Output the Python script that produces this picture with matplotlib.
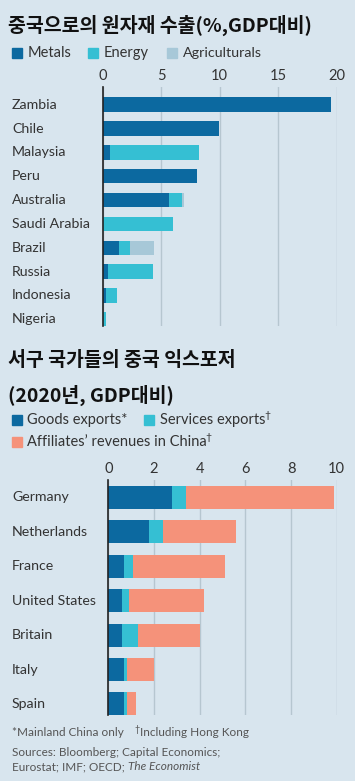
import numpy as np
import matplotlib
matplotlib.use("Agg")
import matplotlib.pyplot as plt
from matplotlib.patches import Rectangle
from matplotlib.transforms import blended_transform_factory

# --- data: raw material exports to China, % of GDP
countries1 = ["Zambia", "Chile", "Malaysia", "Peru", "Australia",
              "Saudi Arabia", "Brazil", "Russia", "Indonesia", "Nigeria"]
metals = [19.5, 9.9, 0.6, 8.05, 5.7, 0.0, 1.4, 0.45, 0.3, 0.05]
energy = [0.0, 0.0, 7.65, 0.0, 1.1, 6.0, 0.95, 3.85, 0.9, 0.2]
agri = [0.0, 0.0, 0.0, 0.0, 0.12, 0.0, 2.05, 0.0, 0.0, 0.0]
ticks1 = [0, 5, 10, 15, 20]

# --- data: western exposure to China, 2020, % of GDP
countries2 = ["Germany", "Netherlands", "France", "United States",
              "Britain", "Italy", "Spain"]
goods = [2.8, 1.8, 0.7, 0.6, 0.6, 0.7, 0.7]
services = [0.6, 0.6, 0.4, 0.3, 0.7, 0.1, 0.12]
affiliates = [6.5, 3.2, 4.0, 3.3, 2.7, 1.2, 0.4]
ticks2 = [0, 2, 4, 6, 8, 10]

BG = "#d8e5ee"
C_DARK = "#0c69a0"
C_CYAN = "#35bfd3"
C_LIGHT = "#a7c8d8"
C_SALMON = "#f5927a"
GRID = "#b6c6d0"
TXT = "#333333"

W, H = 355, 781
fig = plt.figure(figsize=(W / 100, H / 100), dpi=100, facecolor=BG)
KR = ["Noto Sans CJK KR", "DejaVu Sans"]
LAT = ["Lato", "DejaVu Sans"]


def fx(px):
    return px / W


def fy(py):
    return 1 - py / H


def put(x, y, s, **kw):
    kw.setdefault("family", LAT)
    kw.setdefault("va", "center")
    return fig.text(fx(x), fy(y), s, **kw)


renderer = fig.canvas.get_renderer()


def after(t, s, dx=0, dy=0, **kw):
    bb = t.get_window_extent(renderer=renderer)
    kw.setdefault("family", LAT)
    kw.setdefault("va", "center")
    return fig.text(fx(bb.x1 + dx), t.get_position()[1] + dy / H, s, **kw)


def swatch(x, y, c, size=10):
    fig.patches.append(Rectangle((fx(x), fy(y + size / 2)), size / W, size / H,
                                 transform=fig.transFigure, color=c, figure=fig))


def setup(ax, ticks, labels, left_px):
    ax.set_facecolor("none")
    for s in ["top", "right", "bottom"]:
        ax.spines[s].set_visible(False)
    ax.spines["left"].set_color("#222222")
    ax.spines["left"].set_linewidth(1.2)
    ax.spines["left"].set_zorder(5)
    ax.set_xticks(ticks)
    ax.xaxis.tick_top()
    ax.tick_params(axis="x", length=0, pad=3, labelsize=10.5, labelcolor=TXT)
    for lab in ax.get_xticklabels():
        lab.set_family(LAT)
    ax.grid(axis="x", color=GRID, linewidth=1)
    ax.set_axisbelow(True)
    ax.set_yticks([])
    tr = blended_transform_factory(fig.transFigure, ax.transData)
    for i, name in enumerate(labels):
        ax.text(fx(left_px), i, name, transform=tr, family=LAT, fontsize=10.2,
                color=TXT, va="center", ha="left")


# ---------- chart 1 ----------
put(8, 25, "중국으로의 원자재 수출(%,GDP대비)", family=KR, fontsize=14,
    fontweight="bold", color="#111111")
swatch(12, 53, C_DARK)
put(27.5, 53, "Metals", fontsize=10.5, color=TXT)
swatch(88, 53, C_CYAN)
put(104, 53, "Energy", fontsize=10.5, color=TXT)
swatch(167, 53, C_LIGHT)
put(182.5, 53, "Agriculturals", fontsize=10.3, color=TXT)

top1, bot1 = 87, 326
ax1 = fig.add_axes([fx(102.7), fy(bot1), (336.7 - 102.7) / W, (bot1 - top1) / H])
y1 = np.arange(len(countries1))
m = np.array(metals)
e = np.array(energy)
a = np.array(agri)
ax1.barh(y1, m, height=0.6, color=C_DARK)
ax1.barh(y1, e, left=m, height=0.6, color=C_CYAN)
ax1.barh(y1, a, left=m + e, height=0.6, color=C_LIGHT)
ax1.set_xlim(0, 20)
ax1.set_ylim(9.28, -0.74)
setup(ax1, ticks1, countries1, 12)

# ---------- chart 2 ----------
put(8, 360, "서구 국가들의 중국 익스포저", family=KR, fontsize=14,
    fontweight="bold", color="#111111")
put(8, 395, "(2020년, GDP대비)", family=KR, fontsize=14,
    fontweight="bold", color="#111111")
swatch(12, 420, C_DARK)
put(27.5, 420, "Goods exports*", fontsize=10.5, color=TXT)
swatch(144, 420, C_CYAN)
t = put(160, 420, "Services exports", fontsize=10.5, color=TXT)
after(t, "†", dx=-1.5, dy=4, fontsize=7.5, color=TXT)
swatch(12, 442, C_SALMON)
t = put(27.5, 442, "Affiliates\u2019 revenues in China", fontsize=10.5, color=TXT)
after(t, "†", dx=-1.5, dy=4, fontsize=7.5, color=TXT)

top2, bot2 = 480, 715
ax2 = fig.add_axes([fx(108.3), fy(bot2), (336.7 - 108.3) / W, (bot2 - top2) / H])
y2 = np.arange(len(countries2))
g = np.array(goods)
sv = np.array(services)
af = np.array(affiliates)
ax2.barh(y2, g, height=0.67, color=C_DARK)
ax2.barh(y2, sv, left=g, height=0.67, color=C_CYAN)
ax2.barh(y2, af, left=g + sv, height=0.67, color=C_SALMON)
ax2.set_xlim(0, 10)
ax2.set_ylim(6.32, -0.5)
setup(ax2, ticks2, countries2, 12)

# ---------- footer ----------
FOOT = "#555555"
put(12, 733, "*Mainland China only", fontsize=8.5, color=FOOT)
put(134, 730, "†", fontsize=6.5, color=FOOT)
put(139.5, 733, "Including Hong Kong", fontsize=8.5, color=FOOT)
put(12, 752, "Sources: Bloomberg; Capital Economics;", fontsize=8.5, color=FOOT)
t = put(12, 767, "Eurostat; IMF; OECD; ", fontsize=8.5, color=FOOT)
after(t, "The Economist", fontsize=8.5, color=FOOT, style="italic")

fig.savefig("out.png", dpi=100, facecolor=BG)
